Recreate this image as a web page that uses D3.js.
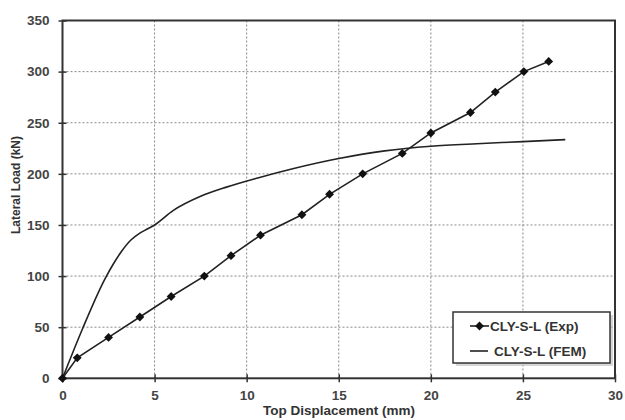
<!DOCTYPE html>
<html>
<head>
<meta charset="utf-8">
<script src="https://cdn.jsdelivr.net/npm/d3@7"></script>
<style>
  body { margin: 0; background: #fff; }
  svg { font-family: "Liberation Sans", Arial, sans-serif; }
  .tick-label { font-size: 13.5px; font-weight: bold; fill: #444; }
  .label { font-size: 13.5px; font-weight: bold; fill: #333; }
  .ylabel { font-size: 12px; font-weight: bold; fill: #333; }
  .legend-text { font-size: 13.5px; font-weight: bold; fill: #333; }
</style>
</head>
<body>
<svg id="chart" width="625" height="420"></svg>
<script>
// experimental points (mm, kN)
var expDisp = [0, 0.8, 2.5, 4.2, 5.9, 7.7, 9.15, 10.75, 13.0, 14.5, 16.3, 18.45, 20.0, 22.15, 23.5, 25.05, 26.4];
var expLoad = [0, 20, 40, 60, 80, 100, 120, 140, 160, 180, 200, 220, 240, 260, 280, 300, 310];

// FEM curve (mm, kN)
var femDisp = [0, 1.1, 2.3, 2.8, 3.2, 3.7, 4.2, 4.6, 5.0, 6.0, 7.5, 8.9, 10.6, 12.5, 15, 17.5, 20, 22.5, 25, 27.3];
var femLoad = [0, 49, 97, 113, 124, 135, 142, 146, 150, 164, 178, 187, 196, 205, 215, 222.5, 227, 229.5, 231.5, 233.5];

var xTicks = [0, 5, 10, 15, 20, 25, 30];
var yTicks = [0, 50, 100, 150, 200, 250, 300, 350];

var seriesNames = ["CLY-S-L (Exp)", "CLY-S-L (FEM)"];

var params = {
  "plot": { "x": 62.5, "y": 20.5, "width": 552.5, "height": 357.8 }
};

function translate(x, y) { return "translate(" + x + "," + y + ")"; }

var svg = d3.select("#chart");
var plot = svg.append("g").attr("transform", translate(params.plot.x, params.plot.y));

var scale = {
  "x": d3.scaleLinear().domain([0, 30]).range([0, params.plot.width]),
  "y": d3.scaleLinear().domain([0, 350]).range([params.plot.height, 0])
};

// grid
plot.selectAll("line.vgrid")
  .data(xTicks.slice(1, -1))
  .enter().append("line")
  .attr("x1", function(d) { return scale.x(d); })
  .attr("x2", function(d) { return scale.x(d); })
  .attr("y1", 0).attr("y2", params.plot.height)
  .attr("stroke", "#888").attr("stroke-width", 1).attr("stroke-dasharray", "2,2");

plot.selectAll("line.hgrid")
  .data(yTicks.slice(1, -1))
  .enter().append("line")
  .attr("y1", function(d) { return scale.y(d); })
  .attr("y2", function(d) { return scale.y(d); })
  .attr("x1", 0).attr("x2", params.plot.width)
  .attr("stroke", "#888").attr("stroke-width", 1).attr("stroke-dasharray", "2,2");

// axes with ticks crossing the frame
var axisX = d3.axisBottom(scale.x).tickValues(xTicks).tickSizeInner(4).tickSizeOuter(0).tickPadding(8);
var gx = plot.append("g").attr("transform", translate(0, params.plot.height)).call(axisX);
gx.select(".domain").remove();
gx.selectAll(".tick line").attr("y1", -4).attr("stroke", "#333").attr("stroke-width", 1.5);
gx.selectAll(".tick text").attr("class", "tick-label").attr("font-size", null).attr("font-family", null);

var axisY = d3.axisLeft(scale.y).tickValues(yTicks).tickSizeInner(4).tickSizeOuter(0).tickPadding(9);
var gy = plot.append("g").call(axisY);
gy.select(".domain").remove();
gy.selectAll(".tick line").attr("x1", 4).attr("stroke", "#333").attr("stroke-width", 1.5);
gy.selectAll(".tick text").attr("class", "tick-label").attr("font-size", null).attr("font-family", null);

// frame
plot.append("rect")
  .attr("x", 0).attr("y", 0)
  .attr("width", params.plot.width).attr("height", params.plot.height)
  .attr("fill", "none").attr("stroke", "#333").attr("stroke-width", 2);

// FEM curve
var femData = femDisp.map(function(d, i) { return [d, femLoad[i]]; });
var line = d3.line()
  .x(function(d) { return scale.x(d[0]); })
  .y(function(d) { return scale.y(d[1]); });

plot.append("path")
  .datum(femData)
  .attr("d", line.curve(d3.curveMonotoneX))
  .attr("fill", "none").attr("stroke", "#222").attr("stroke-width", 1.6);

// experimental curve
var expData = expDisp.map(function(d, i) { return [d, expLoad[i]]; });
plot.append("path")
  .datum(expData)
  .attr("d", d3.line()
    .x(function(d) { return scale.x(d[0]); })
    .y(function(d) { return scale.y(d[1]); })
    .curve(d3.curveLinear))
  .attr("fill", "none").attr("stroke", "#222").attr("stroke-width", 1.6);

var diamond = d3.symbol().type(d3.symbolDiamond2).size(50);
plot.selectAll("path.marker")
  .data(expData)
  .enter().append("path")
  .attr("class", "marker")
  .attr("d", diamond)
  .attr("transform", function(d) { return translate(scale.x(d[0]), scale.y(d[1])); })
  .attr("fill", "#111");

// axis labels
svg.append("text")
  .attr("class", "label")
  .attr("text-anchor", "middle")
  .attr("transform", translate(339, 415))
  .text("Top Displacement  (mm)");

svg.append("text")
  .attr("class", "ylabel")
  .attr("text-anchor", "middle")
  .attr("transform", translate(20, 185) + " rotate(-90)")
  .text("Lateral Load (kN)");

// legend
var legend = svg.append("g").attr("transform", translate(453, 312));
legend.append("rect")
  .attr("x", 3).attr("y", 3).attr("width", 157).attr("height", 51)
  .attr("fill", "#bbb").attr("opacity", 0.6);
legend.append("rect")
  .attr("x", 0).attr("y", 0).attr("width", 157).attr("height", 51)
  .attr("fill", "#fff").attr("stroke", "#333").attr("stroke-width", 1.5);

legend.append("line")
  .attr("x1", 17).attr("x2", 36).attr("y1", 14).attr("y2", 14)
  .attr("stroke", "#222").attr("stroke-width", 1.6);
legend.append("path")
  .attr("d", diamond)
  .attr("transform", translate(26.5, 14))
  .attr("fill", "#111");
legend.append("text")
  .attr("class", "legend-text")
  .attr("x", 37).attr("y", 19)
  .text(seriesNames[0]);

legend.append("line")
  .attr("x1", 17).attr("x2", 35).attr("y1", 39).attr("y2", 39)
  .attr("stroke", "#222").attr("stroke-width", 1.6);
legend.append("text")
  .attr("class", "legend-text")
  .attr("x", 41).attr("y", 44)
  .text(seriesNames[1]);
</script>
</body>
</html>
